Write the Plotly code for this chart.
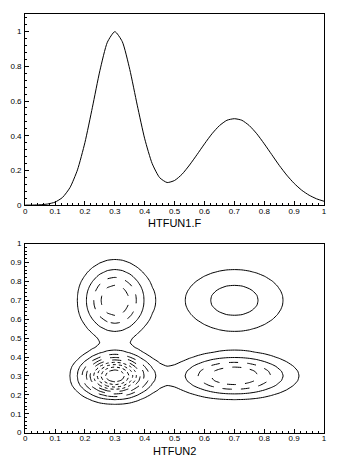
import plotly.graph_objects as go

x_vals = [0.000, 0.025, 0.050, 0.075, 0.100, 0.125, 0.150, 0.175, 0.200, 0.225,
          0.250, 0.275, 0.300, 0.325, 0.350, 0.375, 0.400, 0.425, 0.450, 0.475,
          0.500, 0.525, 0.550, 0.575, 0.600, 0.625, 0.650, 0.675, 0.700, 0.725,
          0.750, 0.775, 0.800, 0.825, 0.850, 0.875, 0.900, 0.925, 0.950, 0.975, 1.000]
f_vals = [0.000, 0.000, 0.002, 0.006, 0.017, 0.044, 0.101, 0.203, 0.361, 0.564,
          0.775, 0.939, 1.000, 0.942, 0.782, 0.576, 0.382, 0.239, 0.158, 0.130,
          0.142, 0.178, 0.231, 0.291, 0.353, 0.411, 0.458, 0.489, 0.498, 0.489,
          0.458, 0.411, 0.353, 0.291, 0.229, 0.173, 0.125, 0.086, 0.057, 0.036, 0.022]

# HTFUN2 surface is HTFUN1(x)*HTFUN1(y), built from the sampled values
z_grid = [[fy * fx for fx in f_vals] for fy in f_vals]

# contour level groups and their line styles
solid_levels = [0.1, 0.2]
dashed_levels = [0.3, 0.4, 0.5]
dotted_levels = [0.6, 0.7, 0.8]
dashdot_levels = [0.9]

x_ticks = [0, 0.1, 0.2, 0.3, 0.4, 0.5, 0.6, 0.7, 0.8, 0.9, 1]
x_ticklabels = ["0", "0.1", "0.2", "0.3", "0.4", "0.5", "0.6", "0.7", "0.8", "0.9", "1"]
y1_ticks = [0, 0.2, 0.4, 0.6, 0.8, 1]
y1_ticklabels = ["0", "0.2", "0.4", "0.6", "0.8", "1"]
y2_ticks = [0, 0.1, 0.2, 0.3, 0.4, 0.5, 0.6, 0.7, 0.8, 0.9, 1]
y2_ticklabels = ["0", "0.1", "0.2", "0.3", "0.4", "0.5", "0.6", "0.7", "0.8", "0.9", "1"]

W, H = 352, 470
FONT = "Liberation Sans, Arial, sans-serif"

fig = go.Figure()

fig.add_trace(go.Scatter(x=x_vals, y=f_vals, mode="lines",
                         line=dict(color="black", width=1, shape="spline", smoothing=0.6),
                         xaxis="x", yaxis="y", showlegend=False, hoverinfo="skip"))


def add_levels(levels, dash):
    for lv in levels:
        fig.add_trace(go.Contour(
            x=x_vals, y=x_vals, z=z_grid,
            contours=dict(start=lv, end=lv, size=1, coloring="lines", showlabels=False),
            autocontour=False,
            colorscale=[[0, "black"], [1, "black"]], showscale=False,
            line=dict(width=1, dash=dash, smoothing=0.6),
            xaxis="x2", yaxis="y2", hoverinfo="skip"))


add_levels(solid_levels, "solid")
add_levels(dashed_levels, "dash")
add_levels(dotted_levels, "dot")
add_levels(dashdot_levels, "dashdot")

x0, x1 = 23.5 / W, 326.7 / W
axis_common = dict(showline=True, linecolor="black", linewidth=1, mirror=True,
                   ticks="inside", tickcolor="black", ticklen=4, tickwidth=1,
                   showgrid=False, zeroline=False,
                   tickfont=dict(family=FONT, size=8, color="black"))

fig.update_layout(
    width=W, height=H,
    margin=dict(l=0, r=0, t=0, b=0),
    paper_bgcolor="white", plot_bgcolor="white",
    xaxis=dict(domain=[x0, x1], range=[0, 1], anchor="y",
               tickvals=x_ticks, ticktext=x_ticklabels, ticklabelstandoff=-2,
               minor=dict(ticks="inside", dtick=0.02, ticklen=2, tickcolor="black"),
               **axis_common),
    yaxis=dict(domain=[1 - 205 / H, 1 - 10.5 / H], range=[0, 1.1], anchor="x",
               tickvals=y1_ticks, ticktext=y1_ticklabels, ticklabelstandoff=1,
               minor=dict(ticks="inside", dtick=0.04, ticklen=2, tickcolor="black"),
               **axis_common),
    xaxis2=dict(domain=[x0, x1], range=[0, 1], anchor="y2",
                tickvals=x_ticks, ticktext=x_ticklabels, ticklabelstandoff=-2,
                minor=dict(ticks="inside", dtick=0.02, ticklen=2, tickcolor="black"),
                **axis_common),
    yaxis2=dict(domain=[1 - 437 / H, 1 - 244.3 / H], range=[0, 1], anchor="x2",
                tickvals=y2_ticks, ticktext=y2_ticklabels, ticklabelstandoff=1,
                minor=dict(ticks="inside", dtick=0.02, ticklen=2, tickcolor="black"),
                **axis_common),
    annotations=[
        dict(text="HTFUN1.F", x=175 / W, y=1 - 223 / H, xref="paper", yref="paper",
             showarrow=False, xanchor="center", yanchor="middle",
             font=dict(family=FONT, size=11, color="black")),
        dict(text="HTFUN2", x=175 / W, y=1 - 456 / H, xref="paper", yref="paper",
             showarrow=False, xanchor="center", yanchor="middle",
             font=dict(family=FONT, size=11, color="black")),
    ],
)

fig.write_html("out.html")
